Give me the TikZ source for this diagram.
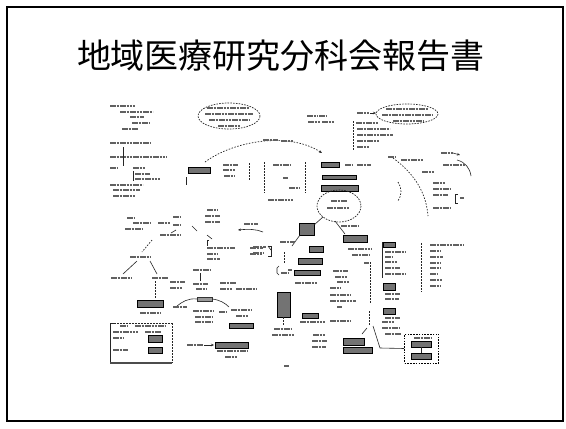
\documentclass[tikz,border=0pt]{standalone}
\usepackage{fontspec}
\newfontfamily\jp{Noto Sans CJK JP}
\usetikzlibrary{arrows.meta}
\newcommand\txl[3]{\draw[txt] (#1,#2) -- ++(#3,0);}
\newcommand\hbx[4]{\draw[hatchbox] (#1,#2) rectangle (#3,#4);}
\tikzset{
  frameline/.style={line width=1.6pt},
  txt/.style={line width=2pt, draw=black!62, dash pattern=on 2.6pt off 0.7pt},
  hatchbox/.style={draw=black, fill=black!55, line width=0.6pt},
  dell/.style={draw=black!85, dash pattern=on 1.6pt off 1.2pt, line width=0.7pt},
  conn/.style={draw=black!85, line width=0.6pt},
  dconn/.style={draw=black!85, line width=0.7pt, dash pattern=on 1.5pt off 1.5pt},
  tip/.style={-{Stealth[length=3pt,width=2.5pt]}},
}
\begin{document}
\begin{tikzpicture}[x=1pt,y=-1pt]
\useasboundingbox (0,0) rectangle (566,429);
\fill[white] (0,0) rectangle (566,429);
% frame and title
\draw[frameline] (7,7) rectangle (563,421);
\node[font=\jp\fontsize{34}{38}\selectfont, inner sep=0pt] (title) at (281,56) {地域医療研究分科会報告書};

% ---------- top left cluster
\txl{110}{106}{25}\txl{120}{112}{33}\txl{130}{117}{14}\txl{132}{123}{18}\txl{122}{129}{16}
\txl{110}{143}{40}\txl{110}{157}{57}
\draw[conn] (123,147) -- (123,166);
\txl{110}{168}{8}\txl{133}{168}{12}
\draw[conn] (133,171) -- (133,181);
\txl{135}{174}{15}\txl{135}{179}{25}
\txl{110}{185}{33}\txl{113}{190}{27}\txl{113}{196}{23}

% ---------- top ellipses
\draw[dell] (229,116) ellipse [x radius=31, y radius=13];
\txl{207}{108}{42}\txl{205}{114}{48}\txl{209}{120}{40}\txl{218}{126}{22}
\draw[dell] (407,114) ellipse [x radius=31, y radius=10];
\txl{386}{109}{42}\txl{382}{115}{50}\txl{393}{121}{30}
\txl{357}{113}{12}
\draw[conn,tip] (370,113) -- (376,113);
\txl{307}{116}{10}\txl{319}{116}{8}\txl{308}{122}{12}\txl{322}{122}{12}

% list with dotted bracket
\draw[dconn] (353,121) -- (353,150);
\txl{356}{123}{22}\txl{357}{129}{33}\txl{357}{135}{36}\txl{357}{141}{23}\txl{357}{147}{12}

% dashed arc from left to middle
\coordinate (arcS) at (205,162);
\coordinate (arcE) at (322,153);
\draw[dconn,tip] (arcS) .. controls (235,140) and (290,132) .. (arcE);
\txl{263}{140}{15}\txl{281}{141}{12}

% hatched box left of rectangle
\hbx{188}{167}{210}{173}
\draw[conn] (186,177) -- (186,185);
\txl{223}{165}{15}\txl{223}{170}{12}\txl{224}{176}{10}
\draw[dconn] (249,163) -- (249,181);

% rectangle with dashed sides
\draw[dconn] (264,162) -- (264,193);
\draw[dconn] (305,162) -- (305,193);
\txl{273}{165}{17}\txl{283}{178}{5}\txl{289}{188}{11}
\txl{268}{200}{25}

% right of rectangle
\hbx{321}{162}{339}{167}\txl{345}{165}{8}\txl{357}{165}{14}
\hbx{322}{175}{356}{179}
\hbx{321}{185}{358}{191}

% big ellipse
\draw[dell] (339,206) ellipse [x radius=22, y radius=16];
\coordinate (ellBL) at (323,217);
\txl{331}{201}{16}\txl{327}{208}{22}

% right curve and cluster
\draw[dconn] (393,158) .. controls (412,172) and (426,190) .. (428,216);
\txl{388}{157}{8}\txl{401}{160}{22}
\txl{441}{153}{12}\draw[conn,tip] (453,153) -- (460,155);
\draw[conn] (457,160) .. controls (465,162) and (470,168) .. (471,176);
\txl{443}{165}{22}\txl{422}{172}{12}
\txl{433}{183}{12}\txl{433}{189}{18}\txl{433}{195}{15}
\draw[conn] (458,194) -- (455,194) -- (455,203) -- (458,203);
\txl{460}{198}{4}
\txl{433}{208}{17}
\draw[dconn] (398,182) .. controls (402,188) and (402,195) .. (398,201);

% ---------- middle, from big ellipse
\hbx{299}{223}{314}{235}
\draw[conn] (ellBL) -- (314,225);
\draw[conn] (300,235) -- (292,246);
\txl{341}{226}{18}
\hbx{343}{235}{367}{242}
\draw[conn] (335,221) -- (345,234);
\txl{348}{249}{24}\txl{352}{255}{18}
\txl{244}{224}{14}
\draw[conn,tip] (263,232) .. controls (256,229) and (248,229) .. (238,230);

% middle column
\txl{280}{242}{15}
\hbx{309}{246}{323}{252}
\hbx{298}{258}{322}{264}
\txl{288}{270}{4}\hbx{294}{270}{320}{275}
\txl{295}{283}{23}
\draw[dconn] (284,252) -- (284,263);
\draw[conn] (279,266) -- (277,268) -- (277,273) -- (279,275);
\txl{281}{273}{7}
\txl{250}{248}{13}\txl{250}{254}{12}
\draw[conn] (268,246) -- (271,246) -- (271,256) -- (268,256);

% tall hatched box
\hbx{277}{292}{290}{317}
\draw[dconn] (283,317) -- (283,326);
\txl{274}{329}{18}\txl{272}{335}{22}
\hbx{302}{313}{318}{318}
\txl{300}{322}{25}\txl{330}{321}{20}
\txl{313}{335}{12}\txl{312}{341}{15}\txl{312}{347}{14}

% column of text near right
\txl{333}{271}{15}\txl{335}{277}{12}\txl{337}{282}{12}\txl{330}{288}{10}
\txl{330}{295}{20}\txl{330}{301}{26}\txl{337}{307}{5}
\draw[dconn] (370,262) -- (370,304);
\txl{364}{263}{5}
\draw[dconn] (369,311) -- (369,326);

% right column with hatched heads
\draw[conn] (382,242) -- (382,278);
\hbx{383}{242}{395}{247}
\txl{385}{252}{20}\txl{385}{257}{8}\txl{385}{262}{12}\txl{385}{268}{15}\txl{385}{274}{20}
\hbx{383}{283}{395}{290}
\txl{385}{294}{15}\txl{385}{299}{14}
\hbx{383}{308}{395}{314}
\txl{385}{318}{15}

% far right list
\draw[dconn] (421,243) -- (421,292);
\txl{430}{245}{34}\txl{430}{251}{10}\txl{430}{257}{13}\txl{430}{263}{10}
\txl{430}{268}{10}\txl{430}{274}{8}\txl{430}{280}{12}\txl{430}{286}{10}

% bottom right
\txl{382}{322}{12}\txl{382}{328}{18}\txl{385}{334}{16}
\draw[conn] (367,328) -- (362,334);
\hbx{343}{338}{364}{345}
\hbx{343}{347}{372}{353}
\coordinate (brS) at (373,326);
\node[draw, dash pattern=on 1.6pt off 1.2pt, line width=0.6pt, minimum width=34pt, minimum height=29pt, inner sep=0pt] (rbox) at (421.5,348.5) {};
\draw[conn] (brS) -- (380,348) -- (rbox.west);
\txl{414}{338}{18}
\hbx{411}{341}{431}{347}
\draw[conn] (421,347) -- (421,353);
\hbx{411}{353}{431}{359}

% ---------- left middle cluster
\txl{127}{218}{7}\txl{133}{223}{17}\txl{125}{229}{18}
\txl{173}{217}{7}\txl{158}{223}{12}\txl{173}{225}{7}\txl{160}{235}{20}
\txl{207}{210}{10}\txl{205}{216}{15}\txl{205}{222}{15}
\draw[conn] (192,226) -- (197,231);
\draw[conn] (176,230) -- (171,233);
\draw[conn] (207,235) -- (212,239);
\draw[conn] (209,240) -- (207,240) -- (207,246);
\txl{207}{248}{28}\txl{207}{254}{10}\txl{207}{259}{13}
\txl{253}{247}{13}\txl{253}{253}{10}
\draw[conn] (268,246) -- (271,250);

% left tree
\draw[dconn] (152,240) -- (142,252);
\txl{130}{257}{20}
\draw[conn] (137,261) -- (123,274);
\draw[conn] (150,261) -- (157,274);
\txl{111}{278}{20}\txl{152}{278}{16}
\draw[dconn] (155,281) -- (155,299);
\hbx{137}{300}{163}{307}
\txl{140}{313}{20}

% centre tree
\txl{193}{270}{18}
\draw[conn] (200,273) -- (200,281);
\txl{193}{284}{15}\txl{196}{289}{10}
\txl{170}{282}{15}\txl{170}{288}{12}
\txl{220}{283}{16}\txl{220}{289}{12}\txl{236}{289}{20}
\node[draw=black!80, line width=0.5pt, inner sep=0pt, minimum width=15pt, minimum height=4pt, fill=black!40] (cbox) at (204.5,299) {};
\draw[conn] (cbox.west) .. controls (188,298) and (182,302) .. (177,306);
\draw[conn] (cbox.east) .. controls (220,300) and (225,303) .. (229,307);
\txl{173}{307}{14}
\txl{193}{311}{20}\txl{195}{317}{18}\txl{195}{322}{17}
\txl{219}{312}{8}
\txl{231}{310}{20}\txl{236}{316}{12}
\hbx{229}{323}{253}{328}

% bottom left box
\draw[conn, line width=0.8pt] (114,323) -- (110,323) -- (110,363);
\draw[dconn] (114,323) -- (172,323);
\draw[dconn] (172,323) -- (172,363);
\draw[line width=1.4pt, black!70] (110,363) -- (172,363);
\txl{120}{326}{8}\txl{135}{326}{30}
\txl{113}{332}{25}\txl{145}{332}{16}
\txl{113}{338}{10}
\txl{113}{350}{15}
\hbx{148}{335}{162}{342}
\hbx{148}{347}{162}{353}

% bottom middle
\txl{187}{345}{16}
\draw[conn,tip] (204,345) -- (214,345);
\hbx{215}{342}{248}{348}
\txl{217}{351}{30}\txl{225}{357}{12}

% page mark
\txl{284}{366}{5}
\end{tikzpicture}
\end{document}
